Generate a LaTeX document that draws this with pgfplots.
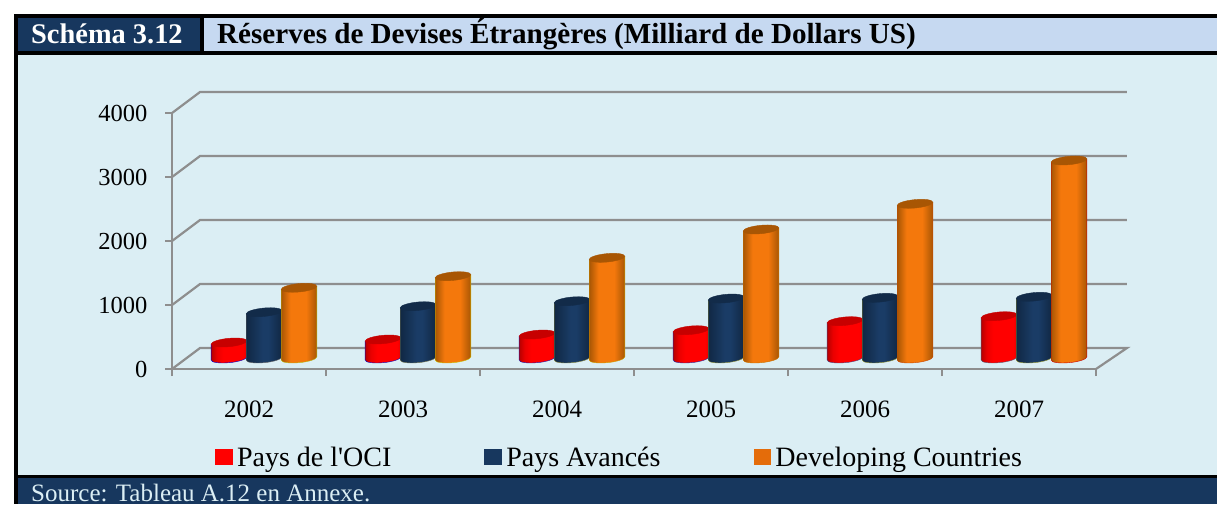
\documentclass[border=0pt]{standalone}
\usepackage{pgfplots}
\usepackage{pgfplotstable}
\usepackage{fontspec}
\setmainfont{Liberation Serif}
\pgfplotsset{compat=1.18}
\definecolor{navy}{HTML}{17375E}
\definecolor{headbg}{HTML}{C6D9F1}
\definecolor{panel}{HTML}{DBEEF4}
\definecolor{gridg}{HTML}{8E8E8E}
\definecolor{legorange}{HTML}{E46C0A}
\definecolor{navyB}{HTML}{1A3C66}
\pgfdeclarehorizontalshading{redcyl}{100bp}{color(0bp)=(red!72!black);color(25bp)=(red!72!black);color(33bp)=(red!92!black);color(42bp)=(red);color(70bp)=(red);color(75bp)=(red!90!black);color(100bp)=(red!90!black)}
\pgfdeclarehorizontalshading{bluecyl}{100bp}{color(0bp)=(navy!72!black);color(25bp)=(navy!72!black);color(48bp)=(navyB);color(56bp)=(navyB);color(75bp)=(navy!72!black);color(100bp)=(navy!72!black)}
\definecolor{orA}{HTML}{F4780C}
\definecolor{orB}{HTML}{A85604}
\pgfdeclarehorizontalshading{orangecyl}{100bp}{color(0bp)=(orB);color(25bp)=(orB);color(38bp)=(orA);color(60bp)=(orA);color(75bp)=(orB);color(100bp)=(orB)}
% draws a tilted cylinder whose top centre is the plotted point, raised to mid-depth
% a = half width, b = half height of the ellipse, s = tilt
\newcommand\drawcyl[2]{%
  \pgfmathsetmacro\tc{10.5}%
  \pgfmathsetmacro\bc{10.5-\vval*0.064}%
  \def\a{17.8}\def\b{4.2}\def\s{0.09}\def\k{0.5523}%
  \pgfmathsetmacro\tilt{\a*\s}%
  \pgfmathsetmacro\kb{\k*\b}%
  \pgfmathsetmacro\ka{\k*\a}%
  \pgfmathsetmacro\kt{\k*\tilt}%
  \begin{scope}[x=1pt,y=1pt]
    \path[shading=#1] (-\a,\bc-\tilt) -- (-\a,\tc-\tilt) -- (\a,\tc+\tilt) -- (\a,\bc+\tilt)
       .. controls (\a,\bc+\tilt-\kb) and (\ka,\bc-\b+\kt) .. (0,\bc-\b)
       .. controls (-\ka,\bc-\b-\kt) and (-\a,\bc-\tilt+\kb*0-\kb) .. (-\a,\bc-\tilt) -- cycle;
    \fill[#2] (\a,\tc+\tilt)
       .. controls (\a,\tc+\tilt+\kb) and (\ka,\tc+\b+\kt) .. (0,\tc+\b)
       .. controls (-\ka,\tc+\b-\kt) and (-\a,\tc-\tilt+\kb) .. (-\a,\tc-\tilt)
       .. controls (-\a,\tc-\tilt-\kb) and (-\ka,\tc-\b-\kt) .. (0,\tc-\b)
       .. controls (\ka,\tc-\b+\kt) and (\a,\tc+\tilt-\kb) .. (\a,\tc+\tilt) -- cycle;
  \end{scope}}
\pgfdeclareplotmark{cylred}{\drawcyl{redcyl}{red!78!black}}
\pgfdeclareplotmark{cylblue}{\drawcyl{bluecyl}{navy!78!black}}
\pgfdeclareplotmark{cylorange}{\drawcyl{orangecyl}{orB}}
\pgfplotstableread{
x   oci  avances dev
0.5 250  723  1105
1.5 297  817  1286
2.5 375  895  1573
3.5 442  937  2016
4.5 583  948  2417
5.5 661  964  3094
}\reserves
\begin{document}
\begin{tikzpicture}[x=1pt,y=1pt]
\path[use as bounding box] (0,0) rectangle (1217,504);
\fill[black] (14,0) rectangle (1217,490);
\fill[navy] (18,453) rectangle (200,486);
\fill[headbg] (204,453) rectangle (1217,486);
\fill[panel] (18,29) rectangle (1217,449);
\fill[navy] (18,0) rectangle (1217,26);
\node[anchor=base west,inner sep=0,text=white,font=\bfseries\fontsize{28.4}{32}\selectfont] at (31,460) {Schéma 3.12};
\node[anchor=base west,inner sep=0,text=black,font=\bfseries\fontsize{29.1}{33}\selectfont] at (217,460) {Réserves de Devises Étrangères (Milliard de Dollars US)};
\node[anchor=base west,inner sep=0,text=panel,font=\fontsize{25}{29}\selectfont] at (31,3) {Source: Tableau A.12 en Annexe.};
\begin{axis}[
  at={(172pt,135pt)}, anchor=south west,
  scale only axis, width=924pt, height=256pt,
  xmin=0, xmax=6, ymin=0, ymax=4000,
  clip=false,
  axis x line*=bottom, axis y line*=left,
  axis line style={gridg,line width=2.2pt,-},
  tick style={gridg,line width=2.2pt},
  major tick length=7pt,
  tick align=outside,
  xtick={0,1,...,6}, xticklabels={},
  extra x ticks={0.5,1.5,2.5,3.5,4.5,5.5},
  extra x tick labels={2002,2003,2004,2005,2006,2007},
  extra x tick style={major tick length=0pt,
    xticklabel style={yshift=-28pt,font=\fontsize{25}{29}\selectfont,text=black}},
  ytick={0,1000,2000,3000,4000},
  yticklabel style={font=\fontsize{24.5}{28}\selectfont,text=black,xshift=-14pt},
  /pgf/number format/assume math mode=true,
  /pgf/number format/1000 sep={},
  legend style={at={(rel axis cs:0.0465,-0.344)},anchor=west,draw=none,fill=none,
    legend columns=3,inner sep=0pt,
    font=\fontsize{28}{32}\selectfont,
    /tikz/column 2/.style={column sep=88pt},
    /tikz/column 4/.style={column sep=88pt},
    nodes={inner xsep=5pt,inner ysep=0pt}},
  legend cell align=left,
]
\addplot[forget plot,gridg,line width=2.2pt] coordinates {(0,0) (0.182,328) (6.201,328) (6,0)};
\addplot[forget plot,gridg,line width=2.2pt] coordinates {(0,1000) (0.182,1328) (6.201,1328)};
\addplot[forget plot,gridg,line width=2.2pt] coordinates {(0,2000) (0.182,2328) (6.201,2328)};
\addplot[forget plot,gridg,line width=2.2pt] coordinates {(0,3000) (0.182,3328) (6.201,3328)};
\addplot[forget plot,gridg,line width=2.2pt] coordinates {(0,4000) (0.182,4328) (6.201,4328)};
\addplot[scatter,only marks,mark=cylred,
  visualization depends on={\thisrow{oci} \as \vval},
  legend image code/.code={\fill[red] (0,-7pt) rectangle (16.5pt,8pt);}]
  table[x expr=\thisrow{x}-0.13,y=oci] {\reserves};
\addlegendentry{Pays de l\textquotesingle OCI}
\addplot[scatter,only marks,mark=cylblue,
  visualization depends on={\thisrow{avances} \as \vval},
  legend image code/.code={\fill[navy] (0,-7pt) rectangle (16.5pt,8pt);}]
  table[x expr=\thisrow{x}+0.0974,y=avances] {\reserves};
\addlegendentry{Pays Avancés}
\addplot[scatter,only marks,mark=cylorange,
  visualization depends on={\thisrow{dev} \as \vval},
  legend image code/.code={\fill[legorange] (0,-7pt) rectangle (16.5pt,8pt);}]
  table[x expr=\thisrow{x}+0.3247,y=dev] {\reserves};
\addlegendentry{Developing Countries}
\end{axis}
\end{tikzpicture}
\end{document}
